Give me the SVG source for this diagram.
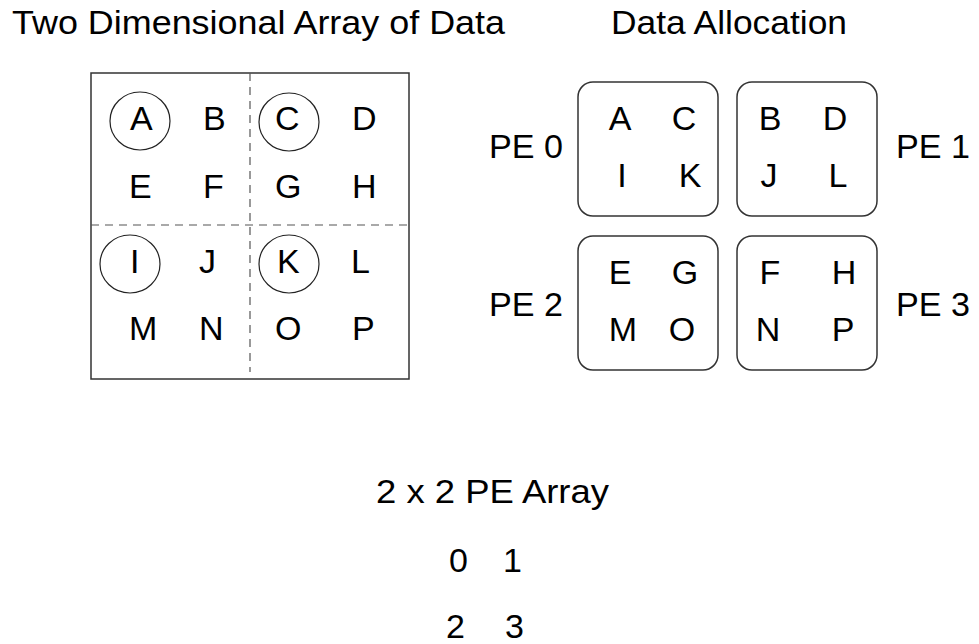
<svg xmlns="http://www.w3.org/2000/svg" width="979" height="644" viewBox="0 0 979 644">
  <style>
    text { font-family: "Liberation Sans", Arial, sans-serif; font-size: 34px; fill: #000; }
    .mid { text-anchor: middle; }
    .frame { fill: none; stroke: #333; stroke-width: 1.5; }
    .split { fill: none; stroke: #555; stroke-width: 1.2; stroke-dasharray: 8 6; }
    .ring { fill: none; stroke: #222; stroke-width: 1.2; }
    .pe { fill: none; stroke: #333; stroke-width: 1.5; }
  </style>
  <rect width="979" height="644" fill="#fff"/>

  <!-- Titles -->
  <g id="titles">
    <text x="12" y="34" textLength="493" lengthAdjust="spacingAndGlyphs">Two Dimensional Array of Data</text>
    <text x="611" y="34" textLength="236" lengthAdjust="spacingAndGlyphs">Data Allocation</text>
  </g>

  <!-- 4x4 data array split into 2x2 blocks -->
  <g id="data-array">
    <rect class="frame" x="91" y="73" width="318" height="306"/>
    <line class="split" x1="250" y1="73" x2="250" y2="372"/>
    <line class="split" x1="91" y1="225" x2="409" y2="225"/>
    <ellipse class="ring" cx="140" cy="121" rx="30" ry="29"/>
    <ellipse class="ring" cx="289" cy="122" rx="30" ry="29"/>
    <ellipse class="ring" cx="130" cy="264" rx="30" ry="29"/>
    <ellipse class="ring" cx="289" cy="264" rx="30" ry="29"/>
    <text x="130" y="130">A</text>
    <text x="203" y="130">B</text>
    <text x="275" y="130">C</text>
    <text x="352" y="130">D</text>
    <text x="129" y="198">E</text>
    <text x="203" y="198">F</text>
    <text x="275" y="198">G</text>
    <text x="352" y="198">H</text>
    <text x="130" y="273">I</text>
    <text x="199" y="273">J</text>
    <text x="277" y="273">K</text>
    <text x="351" y="273">L</text>
    <text x="129" y="340">M</text>
    <text x="199" y="340">N</text>
    <text x="275" y="340">O</text>
    <text x="352" y="340">P</text>
  </g>

  <!-- Processing elements -->
  <g id="pe0">
    <rect class="pe" x="578" y="82" width="140" height="134" rx="15"/>
    <text class="mid" x="620" y="130">A</text>
    <text class="mid" x="684" y="130">C</text>
    <text class="mid" x="622" y="187">I</text>
    <text class="mid" x="690" y="187">K</text>
    <text x="489" y="158" textLength="74" lengthAdjust="spacingAndGlyphs">PE 0</text>
  </g>
  <g id="pe1">
    <rect class="pe" x="737" y="82" width="140" height="134" rx="15"/>
    <text class="mid" x="770" y="130">B</text>
    <text class="mid" x="835" y="130">D</text>
    <text class="mid" x="769" y="187">J</text>
    <text class="mid" x="838" y="187">L</text>
    <text x="896" y="158" textLength="74" lengthAdjust="spacingAndGlyphs">PE 1</text>
  </g>
  <g id="pe2">
    <rect class="pe" x="578" y="236" width="140" height="134" rx="15"/>
    <text class="mid" x="620" y="284">E</text>
    <text class="mid" x="685" y="284">G</text>
    <text class="mid" x="623" y="341">M</text>
    <text class="mid" x="682" y="341">O</text>
    <text x="489" y="316" textLength="74" lengthAdjust="spacingAndGlyphs">PE 2</text>
  </g>
  <g id="pe3">
    <rect class="pe" x="737" y="236" width="140" height="134" rx="15"/>
    <text class="mid" x="770" y="284">F</text>
    <text class="mid" x="844" y="284">H</text>
    <text class="mid" x="768" y="341">N</text>
    <text class="mid" x="843" y="341">P</text>
    <text x="896" y="316" textLength="74" lengthAdjust="spacingAndGlyphs">PE 3</text>
  </g>

  <!-- PE array legend -->
  <g id="pe-array">
    <text x="376" y="503" textLength="233" lengthAdjust="spacingAndGlyphs">2 x 2 PE Array</text>
    <text x="449" y="572">0</text>
    <text x="503" y="572">1</text>
    <text x="446" y="638">2</text>
    <text x="505" y="638">3</text>
  </g>
</svg>
